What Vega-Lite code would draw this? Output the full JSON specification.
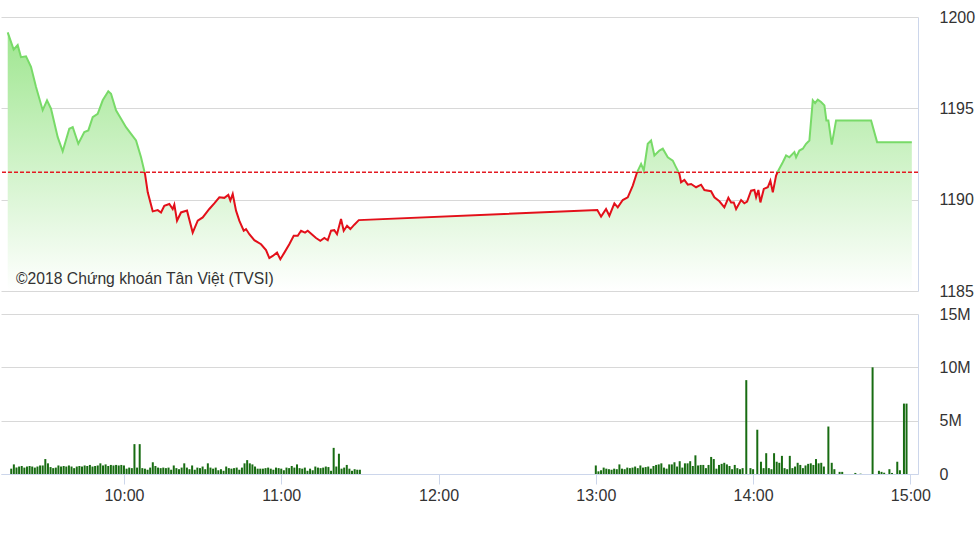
{
  "$schema": "https://vega.github.io/schema/vega-lite/v6.json",
  "padding": {"top": 9, "left": 0, "right": 5, "bottom": 5},
  "background": "#ffffff",
  "config": {
    "view": {"stroke": null},
    "font": "Liberation Sans",
    "axis": {"labelFont": "Liberation Sans", "labelColor": "#333333", "labelFontSize": 16, "gridColor": "#d8d8d8", "domainColor": "#ccd6eb", "tickColor": "#ccd6eb", "title": null}
  },
  "vconcat": [
    {
      "width": 917,
      "height": 274,
      "data": {
        "format": {"parse": {"time": "date:'%H:%M:%S'"}},
        "values": [
          {"time": "09:17:32", "price": 1199.16},
          {"time": "09:19:47", "price": 1198.22},
          {"time": "09:21:18", "price": 1198.46},
          {"time": "09:22:33", "price": 1197.8},
          {"time": "09:24:26", "price": 1197.85},
          {"time": "09:26:19", "price": 1197.27},
          {"time": "09:28:13", "price": 1196.17},
          {"time": "09:30:44", "price": 1194.9},
          {"time": "09:32:22", "price": 1195.44},
          {"time": "09:33:52", "price": 1194.98},
          {"time": "09:36:24", "price": 1193.42},
          {"time": "09:38:17", "price": 1192.65},
          {"time": "09:40:46", "price": 1193.88},
          {"time": "09:42:04", "price": 1193.97},
          {"time": "09:44:10", "price": 1193.06},
          {"time": "09:46:26", "price": 1193.7},
          {"time": "09:47:57", "price": 1193.79},
          {"time": "09:49:36", "price": 1194.52},
          {"time": "09:51:29", "price": 1194.7},
          {"time": "09:53:23", "price": 1195.44},
          {"time": "09:55:29", "price": 1195.93},
          {"time": "09:56:31", "price": 1195.8},
          {"time": "09:58:24", "price": 1194.89},
          {"time": "10:00:17", "price": 1194.43},
          {"time": "10:02:10", "price": 1193.97},
          {"time": "10:04:04", "price": 1193.6},
          {"time": "10:05:57", "price": 1193.24},
          {"time": "10:07:50", "price": 1192.32},
          {"time": "10:09:20", "price": 1191.41},
          {"time": "10:10:22", "price": 1190.4},
          {"time": "10:12:15", "price": 1189.36},
          {"time": "10:14:08", "price": 1189.43},
          {"time": "10:15:23", "price": 1189.3},
          {"time": "10:16:37", "price": 1189.67},
          {"time": "10:18:31", "price": 1189.76},
          {"time": "10:19:47", "price": 1189.49},
          {"time": "10:20:24", "price": 1189.73},
          {"time": "10:21:25", "price": 1188.85},
          {"time": "10:22:55", "price": 1189.3},
          {"time": "10:25:11", "price": 1189.4},
          {"time": "10:27:20", "price": 1188.2},
          {"time": "10:29:14", "price": 1188.85},
          {"time": "10:31:07", "price": 1189.03},
          {"time": "10:33:36", "price": 1189.49},
          {"time": "10:35:29", "price": 1189.8},
          {"time": "10:37:23", "price": 1190.13},
          {"time": "10:39:16", "price": 1190.1},
          {"time": "10:40:46", "price": 1190.26},
          {"time": "10:41:32", "price": 1189.95},
          {"time": "10:42:26", "price": 1190.31},
          {"time": "10:43:41", "price": 1189.4},
          {"time": "10:44:55", "price": 1188.85},
          {"time": "10:46:35", "price": 1188.3},
          {"time": "10:47:27", "price": 1188.39},
          {"time": "10:48:42", "price": 1188.11},
          {"time": "10:50:35", "price": 1187.78},
          {"time": "10:53:07", "price": 1187.56},
          {"time": "10:55:00", "price": 1187.24},
          {"time": "10:56:15", "price": 1186.8},
          {"time": "10:57:32", "price": 1186.92},
          {"time": "10:59:09", "price": 1187.1},
          {"time": "11:00:24", "price": 1186.74},
          {"time": "11:01:55", "price": 1187.1},
          {"time": "11:03:47", "price": 1187.56},
          {"time": "11:05:27", "price": 1188.02},
          {"time": "11:06:58", "price": 1188.02},
          {"time": "11:08:13", "price": 1188.3},
          {"time": "11:09:43", "price": 1188.2},
          {"time": "11:10:44", "price": 1188.3},
          {"time": "11:12:15", "price": 1188.11},
          {"time": "11:13:52", "price": 1187.9},
          {"time": "11:15:29", "price": 1187.75},
          {"time": "11:17:00", "price": 1187.9},
          {"time": "11:18:17", "price": 1187.78},
          {"time": "11:19:32", "price": 1188.3},
          {"time": "11:20:46", "price": 1188.33},
          {"time": "11:21:47", "price": 1188.11},
          {"time": "11:23:18", "price": 1188.94},
          {"time": "11:24:19", "price": 1188.3},
          {"time": "11:25:34", "price": 1188.57},
          {"time": "11:26:49", "price": 1188.39},
          {"time": "11:28:19", "price": 1188.63},
          {"time": "11:30:00", "price": 1188.88},
          {"time": "13:00:00", "price": 1189.43},
          {"time": "13:01:25", "price": 1189.07},
          {"time": "13:03:18", "price": 1189.49},
          {"time": "13:04:33", "price": 1189.12},
          {"time": "13:06:26", "price": 1189.8},
          {"time": "13:07:43", "price": 1189.58},
          {"time": "13:09:36", "price": 1189.98},
          {"time": "13:11:29", "price": 1190.13},
          {"time": "13:13:23", "price": 1190.77},
          {"time": "13:15:00", "price": 1191.5},
          {"time": "13:16:31", "price": 1191.96},
          {"time": "13:17:32", "price": 1191.6},
          {"time": "13:19:02", "price": 1193.06},
          {"time": "13:20:17", "price": 1193.24},
          {"time": "13:21:32", "price": 1192.42},
          {"time": "13:23:25", "price": 1192.69},
          {"time": "13:24:42", "price": 1192.79},
          {"time": "13:26:35", "price": 1192.32},
          {"time": "13:28:28", "price": 1192.14},
          {"time": "13:29:43", "price": 1191.77},
          {"time": "13:30:58", "price": 1191.41},
          {"time": "13:31:36", "price": 1190.95},
          {"time": "13:32:51", "price": 1191.08},
          {"time": "13:34:08", "price": 1190.82},
          {"time": "13:35:23", "price": 1190.86},
          {"time": "13:37:16", "price": 1190.68},
          {"time": "13:39:09", "price": 1190.82},
          {"time": "13:40:24", "price": 1190.53},
          {"time": "13:42:55", "price": 1190.46},
          {"time": "13:44:10", "price": 1190.13},
          {"time": "13:46:04", "price": 1189.91},
          {"time": "13:47:56", "price": 1189.58},
          {"time": "13:49:27", "price": 1190.1},
          {"time": "13:50:28", "price": 1189.85},
          {"time": "13:51:29", "price": 1189.85},
          {"time": "13:52:22", "price": 1189.49},
          {"time": "13:54:15", "price": 1189.98},
          {"time": "13:55:29", "price": 1189.8},
          {"time": "13:56:31", "price": 1189.89},
          {"time": "13:58:01", "price": 1190.49},
          {"time": "13:59:16", "price": 1190.53},
          {"time": "13:59:55", "price": 1190.13},
          {"time": "14:00:46", "price": 1190.53},
          {"time": "14:01:32", "price": 1189.85},
          {"time": "14:02:49", "price": 1190.59},
          {"time": "14:04:19", "price": 1190.68},
          {"time": "14:05:18", "price": 1191.04},
          {"time": "14:06:13", "price": 1190.4},
          {"time": "14:07:27", "price": 1191.32},
          {"time": "14:08:19", "price": 1191.6},
          {"time": "14:09:59", "price": 1192.05},
          {"time": "14:11:14", "price": 1192.42},
          {"time": "14:12:28", "price": 1192.32},
          {"time": "14:14:22", "price": 1192.6},
          {"time": "14:15:00", "price": 1192.32},
          {"time": "14:16:15", "price": 1192.69},
          {"time": "14:17:32", "price": 1192.79},
          {"time": "14:18:46", "price": 1193.06},
          {"time": "14:20:01", "price": 1193.24},
          {"time": "14:21:18", "price": 1195.44},
          {"time": "14:22:10", "price": 1195.29},
          {"time": "14:23:11", "price": 1195.48},
          {"time": "14:24:26", "price": 1195.35},
          {"time": "14:25:41", "price": 1195.16},
          {"time": "14:26:26", "price": 1194.34},
          {"time": "14:27:11", "price": 1194.34},
          {"time": "14:28:28", "price": 1193.02},
          {"time": "14:30:05", "price": 1194.34},
          {"time": "14:43:18", "price": 1194.34},
          {"time": "14:45:34", "price": 1193.15},
          {"time": "14:58:40", "price": 1193.15}
        ]
      },
      "layer": [
        {
          "mark": {
            "type": "area",
            "fill": {"gradient": "linear", "x1": 0, "y1": 0, "x2": 0, "y2": 1, "stops": [{"offset": 0, "color": "#9fe690"}, {"offset": 1, "color": "#ffffff"}]}
          },
          "encoding": {
            "x": {"field": "time", "type": "temporal", "scale": {"domain": [{"year": 1900, "month": 1, "date": 1, "hours": 9, "minutes": 15}, {"year": 1900, "month": 1, "date": 1, "hours": 15, "minutes": 1}]}, "axis": null},
            "y": {"field": "price", "type": "quantitative", "scale": {"domain": [1185, 1200], "nice": false, "zero": false}, "axis": {"orient": "right", "values": [1185, 1190, 1195, 1200], "format": "d", "grid": true, "ticks": false, "domain": true, "labelPadding": 21}},
            "y2": {"datum": 1185}
          }
        },
        {
          "data": {"values": [{}]},
          "mark": {"type": "rule", "stroke": "#e31b23", "strokeDash": [4, 2], "strokeWidth": 1.6},
          "encoding": {"y": {"datum": 1191.5}}
        },
        {
          "mark": {
            "type": "line",
            "strokeWidth": 2,
            "stroke": {"gradient": "linear", "x1": 0, "y1": 0, "x2": 0, "y2": 1, "stops": [{"offset": 0, "color": "#78da68"}, {"offset": 0.6167, "color": "#78da68"}, {"offset": 0.6167, "color": "#e3101a"}, {"offset": 1, "color": "#e3101a"}]}
          },
          "encoding": {
            "x": {"field": "time", "type": "temporal"},
            "y": {"field": "price", "type": "quantitative"}
          }
        },
        {
          "data": {"values": [{}]},
          "mark": {"type": "text", "align": "left", "baseline": "middle", "fontSize": 15.7, "color": "#333333", "font": "Liberation Sans"},
          "encoding": {
            "x": {"datum": {"year": 1900, "month": 1, "date": 1, "hours": 9, "minutes": 20, "seconds": 40}, "type": "temporal"},
            "y": {"datum": 1185.65},
            "text": {"value": "©2018 Chứng khoán Tân Việt (TVSI)"}
          }
        }
      ]
    },
    {
      "width": 917,
      "height": 160,
      "data": {
        "format": {"parse": {"time": "date:'%H:%M:%S'"}},
        "values": [
          {"time": "09:17:00", "volume": 0.5}, {"time": "09:18:00", "volume": 0.9}, {"time": "09:19:00", "volume": 0.6}, {"time": "09:20:00", "volume": 0.7},
          {"time": "09:21:00", "volume": 0.75}, {"time": "09:22:00", "volume": 0.6}, {"time": "09:23:00", "volume": 0.7}, {"time": "09:24:00", "volume": 0.75},
          {"time": "09:25:00", "volume": 0.7}, {"time": "09:26:00", "volume": 0.6}, {"time": "09:27:00", "volume": 0.7}, {"time": "09:28:00", "volume": 0.8},
          {"time": "09:29:00", "volume": 0.8}, {"time": "09:30:00", "volume": 1.4}, {"time": "09:31:00", "volume": 1.0}, {"time": "09:32:00", "volume": 0.65},
          {"time": "09:33:00", "volume": 0.55}, {"time": "09:34:00", "volume": 0.6}, {"time": "09:35:00", "volume": 0.8}, {"time": "09:36:00", "volume": 0.7},
          {"time": "09:37:00", "volume": 0.75}, {"time": "09:38:00", "volume": 0.7}, {"time": "09:39:00", "volume": 0.8}, {"time": "09:40:00", "volume": 0.7},
          {"time": "09:41:00", "volume": 0.55}, {"time": "09:42:00", "volume": 0.7}, {"time": "09:43:00", "volume": 0.75}, {"time": "09:44:00", "volume": 0.7},
          {"time": "09:45:00", "volume": 0.8}, {"time": "09:46:00", "volume": 0.75}, {"time": "09:47:00", "volume": 0.85}, {"time": "09:48:00", "volume": 0.7},
          {"time": "09:49:00", "volume": 0.75}, {"time": "09:50:00", "volume": 0.8}, {"time": "09:51:00", "volume": 1.0}, {"time": "09:52:00", "volume": 0.8},
          {"time": "09:53:00", "volume": 0.9}, {"time": "09:54:00", "volume": 0.75}, {"time": "09:55:00", "volume": 0.85}, {"time": "09:56:00", "volume": 0.8},
          {"time": "09:57:00", "volume": 0.85}, {"time": "09:58:00", "volume": 0.8}, {"time": "09:59:00", "volume": 0.85}, {"time": "10:00:00", "volume": 0.8},
          {"time": "10:01:00", "volume": 0.5}, {"time": "10:02:00", "volume": 0.6}, {"time": "10:03:00", "volume": 0.55}, {"time": "10:04:00", "volume": 2.8},
          {"time": "10:05:00", "volume": 0.6}, {"time": "10:06:00", "volume": 2.8}, {"time": "10:07:00", "volume": 0.55}, {"time": "10:08:00", "volume": 0.5},
          {"time": "10:09:00", "volume": 0.4}, {"time": "10:10:00", "volume": 0.6}, {"time": "10:11:00", "volume": 1.1}, {"time": "10:12:00", "volume": 0.75},
          {"time": "10:13:00", "volume": 0.6}, {"time": "10:14:00", "volume": 0.55}, {"time": "10:15:00", "volume": 0.6}, {"time": "10:16:00", "volume": 0.55},
          {"time": "10:17:00", "volume": 0.6}, {"time": "10:18:00", "volume": 0.4}, {"time": "10:19:00", "volume": 0.8}, {"time": "10:20:00", "volume": 0.55},
          {"time": "10:21:00", "volume": 0.45}, {"time": "10:22:00", "volume": 0.6}, {"time": "10:23:00", "volume": 1.0}, {"time": "10:24:00", "volume": 0.6},
          {"time": "10:25:00", "volume": 0.45}, {"time": "10:26:00", "volume": 0.8}, {"time": "10:27:00", "volume": 0.4}, {"time": "10:28:00", "volume": 0.6},
          {"time": "10:29:00", "volume": 0.55}, {"time": "10:30:00", "volume": 0.7}, {"time": "10:31:00", "volume": 0.45}, {"time": "10:32:00", "volume": 1.0},
          {"time": "10:33:00", "volume": 0.6}, {"time": "10:34:00", "volume": 0.5}, {"time": "10:35:00", "volume": 0.6}, {"time": "10:36:00", "volume": 0.35},
          {"time": "10:37:00", "volume": 0.45}, {"time": "10:38:00", "volume": 0.3}, {"time": "10:39:00", "volume": 0.7}, {"time": "10:40:00", "volume": 0.55},
          {"time": "10:41:00", "volume": 0.5}, {"time": "10:42:00", "volume": 0.55}, {"time": "10:43:00", "volume": 0.6}, {"time": "10:44:00", "volume": 0.4},
          {"time": "10:45:00", "volume": 0.6}, {"time": "10:46:00", "volume": 1.0}, {"time": "10:47:00", "volume": 1.3}, {"time": "10:48:00", "volume": 1.0},
          {"time": "10:49:00", "volume": 0.9}, {"time": "10:50:00", "volume": 0.7}, {"time": "10:51:00", "volume": 0.5}, {"time": "10:52:00", "volume": 0.5},
          {"time": "10:53:00", "volume": 0.5}, {"time": "10:54:00", "volume": 0.55}, {"time": "10:55:00", "volume": 0.6}, {"time": "10:56:00", "volume": 0.5},
          {"time": "10:57:00", "volume": 0.4}, {"time": "10:58:00", "volume": 0.6}, {"time": "10:59:00", "volume": 0.55}, {"time": "11:00:00", "volume": 0.5},
          {"time": "11:01:00", "volume": 0.35}, {"time": "11:02:00", "volume": 0.6}, {"time": "11:03:00", "volume": 0.55}, {"time": "11:04:00", "volume": 0.75},
          {"time": "11:05:00", "volume": 0.6}, {"time": "11:06:00", "volume": 0.9}, {"time": "11:07:00", "volume": 0.55}, {"time": "11:08:00", "volume": 0.5},
          {"time": "11:09:00", "volume": 0.6}, {"time": "11:10:00", "volume": 0.3}, {"time": "11:11:00", "volume": 0.5}, {"time": "11:12:00", "volume": 0.35},
          {"time": "11:13:00", "volume": 0.7}, {"time": "11:14:00", "volume": 0.6}, {"time": "11:15:00", "volume": 0.55}, {"time": "11:16:00", "volume": 0.6},
          {"time": "11:17:00", "volume": 0.7}, {"time": "11:18:00", "volume": 0.65}, {"time": "11:19:00", "volume": 0.3}, {"time": "11:20:00", "volume": 2.45},
          {"time": "11:21:00", "volume": 0.7}, {"time": "11:22:00", "volume": 1.9}, {"time": "11:23:00", "volume": 0.5}, {"time": "11:24:00", "volume": 0.6},
          {"time": "11:25:00", "volume": 0.85}, {"time": "11:26:00", "volume": 0.5}, {"time": "11:27:00", "volume": 0.3}, {"time": "11:28:00", "volume": 0.45},
          {"time": "11:29:00", "volume": 0.4}, {"time": "11:30:00", "volume": 0.4},
          {"time": "13:00:00", "volume": 0.8}, {"time": "13:01:00", "volume": 0.25}, {"time": "13:02:00", "volume": 0.35}, {"time": "13:03:00", "volume": 0.6},
          {"time": "13:04:00", "volume": 0.5}, {"time": "13:05:00", "volume": 0.45}, {"time": "13:06:00", "volume": 0.4}, {"time": "13:07:00", "volume": 0.5},
          {"time": "13:08:00", "volume": 0.45}, {"time": "13:09:00", "volume": 0.9}, {"time": "13:10:00", "volume": 0.5}, {"time": "13:11:00", "volume": 0.45},
          {"time": "13:12:00", "volume": 0.6}, {"time": "13:13:00", "volume": 0.55}, {"time": "13:14:00", "volume": 0.6}, {"time": "13:15:00", "volume": 0.7},
          {"time": "13:16:00", "volume": 0.55}, {"time": "13:17:00", "volume": 0.8}, {"time": "13:18:00", "volume": 0.6}, {"time": "13:19:00", "volume": 0.65},
          {"time": "13:20:00", "volume": 0.7}, {"time": "13:21:00", "volume": 0.5}, {"time": "13:22:00", "volume": 0.75}, {"time": "13:23:00", "volume": 0.85},
          {"time": "13:24:00", "volume": 0.9}, {"time": "13:25:00", "volume": 1.0}, {"time": "13:26:00", "volume": 0.6}, {"time": "13:27:00", "volume": 0.5},
          {"time": "13:28:00", "volume": 0.9}, {"time": "13:29:00", "volume": 0.9}, {"time": "13:30:00", "volume": 1.1}, {"time": "13:31:00", "volume": 0.7},
          {"time": "13:32:00", "volume": 1.2}, {"time": "13:33:00", "volume": 0.6}, {"time": "13:34:00", "volume": 1.0}, {"time": "13:35:00", "volume": 1.0},
          {"time": "13:36:00", "volume": 1.2}, {"time": "13:37:00", "volume": 0.75}, {"time": "13:38:00", "volume": 1.75}, {"time": "13:39:00", "volume": 0.8},
          {"time": "13:40:00", "volume": 0.85}, {"time": "13:41:00", "volume": 0.85}, {"time": "13:42:00", "volume": 0.55}, {"time": "13:43:00", "volume": 0.85},
          {"time": "13:44:00", "volume": 1.6}, {"time": "13:45:00", "volume": 1.4}, {"time": "13:46:00", "volume": 0.5}, {"time": "13:47:00", "volume": 0.85},
          {"time": "13:48:00", "volume": 0.95}, {"time": "13:49:00", "volume": 1.05}, {"time": "13:50:00", "volume": 0.9}, {"time": "13:51:00", "volume": 0.75},
          {"time": "13:52:00", "volume": 0.45}, {"time": "13:53:00", "volume": 0.85}, {"time": "13:54:00", "volume": 0.55}, {"time": "13:55:00", "volume": 0.45},
          {"time": "13:56:00", "volume": 0.55}, {"time": "13:57:24", "volume": 8.8}, {"time": "13:59:00", "volume": 0.55}, {"time": "14:00:00", "volume": 0.45},
          {"time": "14:01:36", "volume": 4.15}, {"time": "14:03:00", "volume": 1.15}, {"time": "14:04:00", "volume": 0.55}, {"time": "14:05:00", "volume": 1.95},
          {"time": "14:06:00", "volume": 0.55}, {"time": "14:07:00", "volume": 0.45}, {"time": "14:08:00", "volume": 1.95}, {"time": "14:09:00", "volume": 1.15},
          {"time": "14:10:00", "volume": 1.05}, {"time": "14:11:00", "volume": 1.7}, {"time": "14:12:00", "volume": 0.55}, {"time": "14:13:00", "volume": 0.45},
          {"time": "14:14:00", "volume": 1.7}, {"time": "14:15:00", "volume": 0.55}, {"time": "14:16:00", "volume": 0.7}, {"time": "14:17:00", "volume": 1.05},
          {"time": "14:18:00", "volume": 0.85}, {"time": "14:19:00", "volume": 0.55}, {"time": "14:20:00", "volume": 0.8}, {"time": "14:21:00", "volume": 0.95},
          {"time": "14:22:00", "volume": 1.0}, {"time": "14:23:00", "volume": 0.85}, {"time": "14:24:00", "volume": 1.4}, {"time": "14:25:00", "volume": 1.0},
          {"time": "14:26:00", "volume": 1.05}, {"time": "14:27:00", "volume": 0.7}, {"time": "14:28:43", "volume": 4.45}, {"time": "14:30:00", "volume": 1.05},
          {"time": "14:31:00", "volume": 0.45}, {"time": "14:33:00", "volume": 0.2}, {"time": "14:34:00", "volume": 0.2}, {"time": "14:39:00", "volume": 0.1},
          {"time": "14:41:00", "volume": 0.03}, {"time": "14:45:35", "volume": 10.0}, {"time": "14:48:00", "volume": 0.3}, {"time": "14:49:00", "volume": 0.2},
          {"time": "14:50:00", "volume": 0.12}, {"time": "14:52:00", "volume": 0.45}, {"time": "14:53:00", "volume": 0.1}, {"time": "14:55:00", "volume": 1.15},
          {"time": "14:56:00", "volume": 0.35}, {"time": "14:57:33", "volume": 6.6}, {"time": "14:58:32", "volume": 6.6}
        ]
      },
      "mark": {"type": "bar", "color": "#186c12", "size": 2},
      "encoding": {
        "x": {
          "field": "time", "type": "temporal",
          "scale": {"domain": [{"year": 1900, "month": 1, "date": 1, "hours": 9, "minutes": 15}, {"year": 1900, "month": 1, "date": 1, "hours": 15, "minutes": 1}]},
          "axis": {
            "values": [
              {"year": 1900, "month": 1, "date": 1, "hours": 10},
              {"year": 1900, "month": 1, "date": 1, "hours": 11},
              {"year": 1900, "month": 1, "date": 1, "hours": 12},
              {"year": 1900, "month": 1, "date": 1, "hours": 13},
              {"year": 1900, "month": 1, "date": 1, "hours": 14},
              {"year": 1900, "month": 1, "date": 1, "hours": 15}
            ],
            "format": "%H:%M", "tickSize": 10, "labelPadding": 3, "grid": false, "domain": true, "zindex": 1, "labelFlush": false, "labelOverlap": false
          }
        },
        "y": {
          "field": "volume", "type": "quantitative",
          "scale": {"domain": [0, 15], "nice": false},
          "axis": {"orient": "right", "values": [0, 5, 10, 15], "labelExpr": "datum.value == 0 ? '0' : datum.value + 'M'", "grid": true, "ticks": false, "labelPadding": 21}
        }
      }
    }
  ],
  "spacing": 23,
  "bounds": "flush"
}
